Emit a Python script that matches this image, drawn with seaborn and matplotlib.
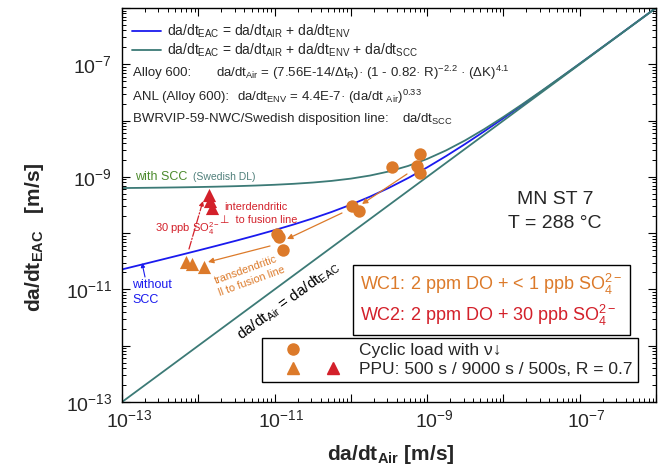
import matplotlib
matplotlib.use("Agg")
import matplotlib.pyplot as plt
import matplotlib.transforms as mtransforms
import seaborn as sns
import pandas as pd
from matplotlib.ticker import FixedLocator, FuncFormatter, NullFormatter
from matplotlib.lines import Line2D
from matplotlib.legend_handler import HandlerTuple

# ---------------- data ----------------
air_rate = [1e-13, 1.778e-13, 3.162e-13, 5.623e-13, 1e-12, 1.778e-12, 3.162e-12,
            5.623e-12, 1e-11, 1.778e-11, 3.162e-11, 5.623e-11, 1e-10, 1.778e-10,
            3.162e-10, 5.623e-10, 1e-9, 1.778e-9, 3.162e-9, 5.623e-9, 1e-8,
            1.778e-8, 3.162e-8, 5.623e-8, 1e-7, 3.162e-7, 1e-6]
eac_without_scc = [2.267e-11, 2.746e-11, 3.332e-11, 4.045e-11, 4.925e-11,
                   6.012e-11, 7.370e-11, 9.092e-11, 1.1315e-10, 1.4251e-10,
                   1.8244e-10, 2.3860e-10, 3.2052e-10, 4.4446e-10, 6.3864e-10,
                   9.5221e-10, 1.4715e-9, 2.3481e-9, 3.8514e-9, 6.4566e-9,
                   1.1008e-8, 1.8999e-8, 3.3094e-8, 5.8012e-8, 1.0216e-7,
                   3.1935e-7, 1.0046e-6]
eac_with_scc = [6.327e-10, 6.375e-10, 6.433e-10, 6.505e-10, 6.593e-10,
                6.701e-10, 6.837e-10, 7.009e-10, 7.232e-10, 7.525e-10,
                7.924e-10, 8.486e-10, 9.305e-10, 1.0545e-9, 1.2486e-9,
                1.5622e-9, 2.0815e-9, 2.9581e-9, 4.4614e-9, 7.0666e-9,
                1.1618e-8, 1.9609e-8, 3.3704e-8, 5.8622e-8, 1.0277e-7,
                3.1996e-7, 1.00521e-6]
diag_rate = [1e-13, 1e-6]

cyclic_air = [3.46e-10, 8.05e-10, 7.46e-10, 8.05e-10, 1.03e-10, 1.28e-10,
              1.07e-11, 1.16e-11, 1.29e-11]
cyclic_eac = [1.49e-9, 2.54e-9, 1.56e-9, 1.17e-9, 3.03e-10, 2.47e-10,
              9.64e-11, 8.53e-11, 5.01e-11]
ppu_wc1_air = [6.9e-13, 8.19e-13, 1.2e-12]
ppu_wc1_eac = [3.1e-11, 2.79e-11, 2.47e-11]
ppu_wc2_air = [1.39e-12, 1.42e-12, 1.52e-12]
ppu_wc2_eac = [4.75e-10, 3.76e-10, 2.82e-10]

decades = [-13, -12, -11, -10, -9, -8, -7, -6]
labelled_decades = {-13: "10^{-13}", -11: "10^{-11}", -9: "10^{-9}", -7: "10^{-7}"}

# ---------------- style ----------------
sns.set_style("ticks")
plt.rcParams['font.family'] = ['Liberation Sans', 'DejaVu Sans']
plt.rcParams['mathtext.fontset'] = 'custom'
plt.rcParams['mathtext.rm'] = 'Liberation Sans'
plt.rcParams['mathtext.it'] = 'Liberation Sans:italic'
plt.rcParams['mathtext.bf'] = 'Liberation Sans:bold'

BLUE = "#1a1aee"
TEAL = "#3c7a76"
ORANGE = "#dc7a2a"
RED = "#d3202a"
GREEN = "#4b8a2c"

W, H = 669, 471
fig = plt.figure(figsize=(W / 100, H / 100), dpi=100)
L, R, B, T = 122, 656, 402, 8
ax = fig.add_axes([L / W, 1 - B / H, (R - L) / W, (B - T) / H])
ax.set_xscale('log')
ax.set_yscale('log')


def P(x, y):
    return ((x - L) / (R - L), (B - y) / (B - T))


df_curves = pd.DataFrame({"air": air_rate, "no_scc": eac_without_scc,
                          "scc": eac_with_scc})
sns.lineplot(data=df_curves, x="air", y="no_scc", ax=ax, color=BLUE, lw=1.3,
             sort=False, estimator=None)
sns.lineplot(data=df_curves, x="air", y="scc", ax=ax, color=TEAL, lw=1.3,
             sort=False, estimator=None)
sns.lineplot(x=diag_rate, y=diag_rate, ax=ax, color=TEAL, lw=1.3,
             sort=False, estimator=None)

sns.scatterplot(x=cyclic_air, y=cyclic_eac, ax=ax, color=ORANGE, marker='o',
                s=80, linewidth=0, zorder=5)
sns.scatterplot(x=ppu_wc1_air, y=ppu_wc1_eac, ax=ax, color=ORANGE, marker='^',
                s=90, linewidth=0, zorder=5)
sns.scatterplot(x=ppu_wc2_air, y=ppu_wc2_eac, ax=ax, color=RED, marker='^',
                s=90, linewidth=0, zorder=5)

ax.set_xlim(1e-13, 1e-6)
ax.set_ylim(1e-13, 1e-6)

# ---------------- ticks ----------------
major = [10.0 ** e for e in decades]
minor = [m * 10.0 ** e for e in decades[:-1] for m in range(2, 10)]


def fmt(v, pos):
    import math
    e = int(round(math.log10(v)))
    if e in labelled_decades:
        return r"$\mathregular{" + labelled_decades[e] + "}$"
    return ""


for axis in (ax.xaxis, ax.yaxis):
    axis.set_major_locator(FixedLocator(major))
    axis.set_minor_locator(FixedLocator(minor))
    axis.set_major_formatter(FuncFormatter(fmt))
    axis.set_minor_formatter(NullFormatter())

ax.tick_params(which='both', direction='in', top=True, right=True, width=0.8,
               color='black')
ax.tick_params(which='major', length=6, labelsize=14)
ax.tick_params(which='minor', length=3, width=0.7)
ax.tick_params(axis='x', which='major', pad=5)
ax.tick_params(axis='y', which='major', pad=7)
shift = mtransforms.ScaledTranslation(7 / 100, 0, fig.dpi_scale_trans)
for lab in ax.get_xticklabels():
    lab.set_transform(lab.get_transform() + shift)
for s in ax.spines.values():
    s.set_linewidth(1.0)
    s.set_color('black')
ax.set_xlabel("")
ax.set_ylabel("")

fig.text(391 / W, 1 - 455 / H, r"$\mathbf{da/dt_{Air}\ [m/s]}$",
         ha='center', va='center', fontsize=15)
fig.text(35 / W, 1 - 237 / H, r"$\mathbf{da/dt_{EAC}\ \ \ [m/s]}$",
         ha='center', va='center', fontsize=15, rotation=90)

# ---------------- top-left legend and formulas ----------------
h1 = Line2D([], [], color=BLUE, lw=1.3)
h2 = Line2D([], [], color=TEAL, lw=1.3)
leg1 = ax.legend([h1, h2],
                 [r"da/dt$_\mathregular{EAC}$ = da/dt$_\mathregular{AIR}$ + da/dt$_\mathregular{ENV}$",
                  r"da/dt$_\mathregular{EAC}$ = da/dt$_\mathregular{AIR}$ + da/dt$_\mathregular{ENV}$ + da/dt$_\mathregular{SCC}$"],
                 loc='upper left', bbox_to_anchor=P(132, 23), frameon=False,
                 fontsize=10, handlelength=2.1, handletextpad=0.45,
                 borderpad=0, borderaxespad=0, labelspacing=0.1)
ax.add_artist(leg1)

tk = dict(transform=ax.transAxes, fontsize=9.5, va='center', ha='left')
ax.text(*P(133, 73), "Alloy 600:", **tk)
ax.text(*P(216, 73),
        r"da/dt$_\mathregular{Air}$ = (7.56E-14/Δt$_\mathregular{R}$)· (1 - 0.82· R)$^\mathregular{-2.2}$ · (ΔK)$^\mathregular{4.1}$",
        **tk)
ax.text(*P(133, 97), "ANL (Alloy 600):", **tk)
ax.text(*P(237, 97),
        r"da/dt$_\mathregular{ENV}$ = 4.4E-7· (da/dt $_\mathregular{Air}$)$^\mathregular{0.33}$",
        **tk)
ax.text(*P(133, 119), "BWRVIP-59-NWC/Swedish disposition line:", **tk)
ax.text(*P(402, 119), r"da/dt$_\mathregular{SCC}$", **tk)

# ---------------- in-plot annotations ----------------
ax.text(*P(135, 177), "with SCC", transform=ax.transAxes, fontsize=9,
        color=GREEN, va='center', ha='left')
ax.text(*P(193, 177), "(Swedish DL)", transform=ax.transAxes, fontsize=7.5,
        color="#4f7f7a", va='center', ha='left')
ax.text(*P(132, 285), "without", transform=ax.transAxes, fontsize=9,
        color=BLUE, va='center', ha='left')
ax.text(*P(132, 300), "SCC", transform=ax.transAxes, fontsize=9,
        color=BLUE, va='center', ha='left')
ax.annotate("", xy=P(142, 263), xytext=P(145, 277), xycoords='axes fraction',
            textcoords='axes fraction',
            arrowprops=dict(arrowstyle='-|>', color=BLUE, lw=0.8,
                            mutation_scale=6, shrinkA=0, shrinkB=0))

ax.text(*P(224, 207), "interdendritic", transform=ax.transAxes, fontsize=7.8,
        color=RED, va='center', ha='left')
ax.text(*P(220, 220), "⊥  to fusion line", transform=ax.transAxes,
        fontsize=7.8, color=RED, va='center', ha='left')
ax.text(*P(155, 229), r"30 ppb SO$_\mathregular{4}^\mathregular{2-}$",
        transform=ax.transAxes, fontsize=8, color=RED, va='center', ha='left')
ax.annotate("", xy=P(203, 201), xytext=P(189, 249), xycoords='axes fraction',
            textcoords='axes fraction',
            arrowprops=dict(arrowstyle='-|>', color=RED, lw=0.9, ls='-.',
                            mutation_scale=7, shrinkA=0, shrinkB=0))

ax.text(*P(246, 270), "transdendritic", transform=ax.transAxes, fontsize=7.8,
        color=ORANGE, va='center', ha='center', rotation=20,
        rotation_mode='anchor')
ax.text(*P(252, 281), "ll to fusion line", transform=ax.transAxes,
        fontsize=7.8, color=ORANGE, va='center', ha='center', rotation=20,
        rotation_mode='anchor')
for (x0, y0), (x1, y1) in [((407, 174), (362, 204)),
                           ((342, 213), (287, 239)),
                           ((270, 246), (208, 262))]:
    ax.annotate("", xy=P(x1, y1), xytext=P(x0, y0), xycoords='axes fraction',
                textcoords='axes fraction',
                arrowprops=dict(arrowstyle='-|>', color=ORANGE, lw=0.9,
                                mutation_scale=8, shrinkA=0, shrinkB=0))

ax.text(*P(288, 301), r"da/dt$_\mathregular{Air}$ = da/dt$_\mathregular{EAC}$",
        transform=ax.transAxes, fontsize=11, color='black', va='center',
        ha='center', rotation=36, rotation_mode='anchor')

ax.text(*P(555, 199), "MN ST 7", transform=ax.transAxes, fontsize=14,
        va='center', ha='center')
ax.text(*P(555, 224), "T = 288 °C", transform=ax.transAxes, fontsize=14,
        va='center', ha='center')

# ---------------- water chemistry box ----------------
blank = Line2D([], [], lw=0, marker=None)
leg2 = ax.legend([blank, blank],
                 [r"WC1: 2 ppm DO + < 1 ppb SO$_\mathregular{4}^\mathregular{2-}$",
                  r"WC2: 2 ppm DO + 30 ppb SO$_\mathregular{4}^\mathregular{2-}$"],
                 loc='upper left', bbox_to_anchor=P(353, 265),
                 fontsize=13, handlelength=0, handletextpad=0,
                 labelcolor=[ORANGE, RED], fancybox=False, framealpha=1,
                 edgecolor='black', borderpad=0.4, borderaxespad=0,
                 labelspacing=0.3)
leg2.get_frame().set_linewidth(1.0)
ax.add_artist(leg2)

# ---------------- marker legend ----------------
m_circ = Line2D([], [], lw=0, marker='o', color=ORANGE, markersize=8)
m_tri1 = Line2D([], [], lw=0, marker='^', color=ORANGE, markersize=8)
m_tri2 = Line2D([], [], lw=0, marker='^', color=RED, markersize=8)
m_none = Line2D([], [], lw=0, marker=None)
leg3 = ax.legend([(m_circ, m_none), (m_tri1, m_tri2)],
                 ["Cyclic load with ν↓", "PPU: 500 s / 9000 s / 500s, R = 0.7"],
                 handler_map={tuple: HandlerTuple(ndivide=None, pad=-0.69)},
                 loc='upper left', bbox_to_anchor=P(262, 338),
                 fontsize=12.5, handlelength=5.29, handletextpad=0.0,
                 fancybox=False, framealpha=1, edgecolor='black',
                 borderpad=0.3, borderaxespad=0, labelspacing=0.2)
leg3.get_frame().set_linewidth(1.0)

fig.savefig("out.png", dpi=100)
